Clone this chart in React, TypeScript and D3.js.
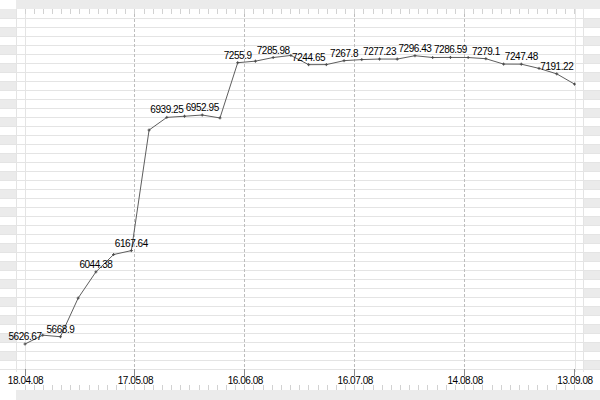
import React from "react";
import * as d3 from "d3";

const values: number[] = [
  5626.67, 5678, 5668.9, 5893, 6044.38, 6145, 6167.64, 6866, 6939.25, 6946,
  6952.95, 6936, 7255.9, 7265, 7285.98, 7298, 7244.65, 7245, 7267.8, 7274,
  7277.23, 7277, 7296.43, 7286, 7286.59, 7286, 7279.1, 7248, 7247.48, 7223,
  7191.22, 7132,
];
const tickLabels: string[] = ["18.04.08", "17.05.08", "16.06.08", "16.07.08", "14.08.08", "13.09.08"];
const yDomain: [number, number] = [5482, 7567];

const W = 600;
const H = 400;
const left = 25;
const right = 574.5;
const top = 9;
const bottom = 369;
const marginL = 16;
const marginR = 583;
const rowH = 9;
const nRows = 40;
const FONT = "'Liberation Sans', Arial, sans-serif";

export default function App() {
  const x = d3.scaleLinear().domain([0, values.length - 1]).range([left, right]);
  const xt = d3.scaleLinear().domain([0, tickLabels.length - 1]).range([left, right]);
  const xm = d3.scaleLinear().domain([0, (tickLabels.length - 1) * 12]).range([left, right]);
  const y = d3.scaleLinear().domain(yDomain).range([bottom, top]);
  const line = d3
    .line<number>()
    .x((_, i) => x(i))
    .y((d) => y(d));
  const rows = d3.range(nRows);
  const minor = d3.range((tickLabels.length - 1) * 12 + 1);
  const band = "#ebebeb";
  const grid = "#e4e4e4";

  return (
    <div style={{ position: "fixed", left: 0, top: 0 }}>
      <svg width={W} height={H} style={{ display: "block", background: "#fff" }}>
        {/* top & bottom bands */}
        <rect x={marginL} y={0} width={W - marginL} height={top} fill={band} />
        <rect x={marginL} y={390} width={W - marginL} height={10} fill={band} />
        {/* side stripes */}
        {rows.map((r) =>
          r % 2 === 0 ? (
            <rect key={"l" + r} x={0} y={top + r * rowH} width={marginL} height={rowH} fill={band} />
          ) : (
            <rect key={"r" + r} x={marginR} y={top + r * rowH} width={W - marginR} height={rowH} fill={band} />
          )
        )}
        {/* horizontal grid lines */}
        {rows.map((r) => (
          <line
            key={"h" + r}
            x1={0}
            x2={W}
            y1={top + (r + 1) * rowH + 0.5}
            y2={top + (r + 1) * rowH + 0.5}
            stroke={grid}
            strokeWidth={1}
          />
        ))}
        {/* side vertical lines */}
        {[marginL, left, Math.round(right) - 0.5 + 0.5, marginR].map((v, i) => (
          <line key={"sv" + i} x1={Math.floor(v) + 0.5} x2={Math.floor(v) + 0.5} y1={top} y2={372} stroke={grid} />
        ))}
        {/* dashed vertical lines at inner ticks */}
        {tickLabels.slice(1, -1).map((_, i) => (
          <line
            key={"dv" + i}
            x1={Math.floor(xt(i + 1)) + 0.5}
            x2={Math.floor(xt(i + 1)) + 0.5}
            y1={top}
            y2={372}
            stroke="#bdbdbd"
            strokeDasharray="3,2"
          />
        ))}
        {/* minor ticks top & bottom */}
        {minor.map((m) => (
          <g key={"m" + m}>
            <line x1={Math.floor(xm(m)) + 0.5} x2={Math.floor(xm(m)) + 0.5} y1={top} y2={14} stroke="#d2d2d2" />
            <line x1={Math.floor(xm(m)) + 0.5} x2={Math.floor(xm(m)) + 0.5} y1={385} y2={390} stroke="#d2d2d2" />
          </g>
        ))}
        {/* major ticks & labels */}
        {tickLabels.map((t, i) => (
          <g key={"t" + i}>
            <line
              x1={Math.floor(xt(i)) + 0.5}
              x2={Math.floor(xt(i)) + 0.5}
              y1={369}
              y2={376}
              stroke="#8a8a8a"
            />
            <text
              x={xt(i) + 0.5}
              y={384}
              textAnchor="middle"
              fontFamily={FONT}
              fontSize={10}
              letterSpacing={-0.45}
              fill="#000"
            >
              {t}
            </text>
          </g>
        ))}
        {/* series line */}
        <path d={line(values) || ""} fill="none" stroke="#5e5e5e" strokeWidth={1} />
        {values.map((v, i) => (
          <g key={"p" + i} stroke="#4a4a4a">
            <line x1={x(i) - 1.5} x2={x(i) + 1.5} y1={y(v)} y2={y(v)} />
            <line x1={x(i)} x2={x(i)} y1={y(v) - 1.5} y2={y(v) + 1.5} />
          </g>
        ))}
        {/* value labels */}
        {values.map((v, i) =>
          i % 2 === 0 ? (
            <text
              key={"lb" + i}
              x={x(i)}
              y={y(v) - 4}
              textAnchor="middle"
              fontFamily={FONT}
              fontSize={10}
              letterSpacing={-0.45}
              fill="#000"
            >
              {String(v)}
            </text>
          ) : null
        )}
      </svg>
    </div>
  );
}
